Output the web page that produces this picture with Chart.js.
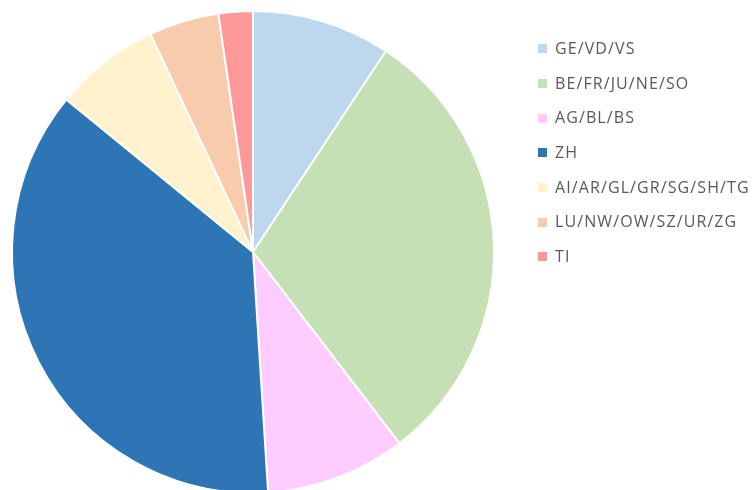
<!DOCTYPE html>
<html><head><meta charset="utf-8">
<script src="https://cdn.jsdelivr.net/npm/chart.js@4"></script>
<style>
html,body{margin:0;padding:0;background:#fff;width:755px;height:490px;overflow:hidden;}
#wrap{position:absolute;left:0;top:0;width:755px;height:500px;}
#legend{position:absolute;left:538px;top:31px;font-family:"Open Sans",sans-serif;font-size:16px;letter-spacing:1.1px;color:#595959;}
.item{position:relative;height:34.7px;line-height:34.7px;white-space:nowrap;}
.box{display:inline-block;width:9px;height:9px;margin-right:8px;vertical-align:middle;position:relative;top:-1px;}
</style></head><body>
<div id="wrap"><canvas id="c" width="755" height="500"></canvas></div>
<div id="legend"></div>
<script>
const categories = ["GE/VD/VS","BE/FR/JU/NE/SO","AG/BL/BS","ZH","AI/AR/GL/GR/SG/SH/TG","LU/NW/OW/SZ/UR/ZG","TI"];
const shares = [9.3, 30.3, 9.4, 36.9, 7.1, 4.7, 2.3];
const colors = ["#BDD7EE","#C5E0B4","#FFCCFF","#2E75B6","#FFF2CC","#F8CBAD","#FF9999"];

const lg = document.getElementById('legend');
categories.forEach((c,i)=>{
  const d=document.createElement('div');d.className='item';
  d.innerHTML='<span class="box" style="background:'+colors[i]+'"></span>'+c;
  lg.appendChild(d);
});

new Chart(document.getElementById('c'), {
  type:'pie',
  data:{labels:categories,datasets:[{data:shares,backgroundColor:colors,borderColor:'#ffffff',borderWidth:2}]},
  options:{
    responsive:false,animation:false,
    layout:{padding:{left:11,right:260,top:10,bottom:6}},
    plugins:{legend:{display:false},tooltip:{enabled:false}}
  }
});
</script></body></html>
